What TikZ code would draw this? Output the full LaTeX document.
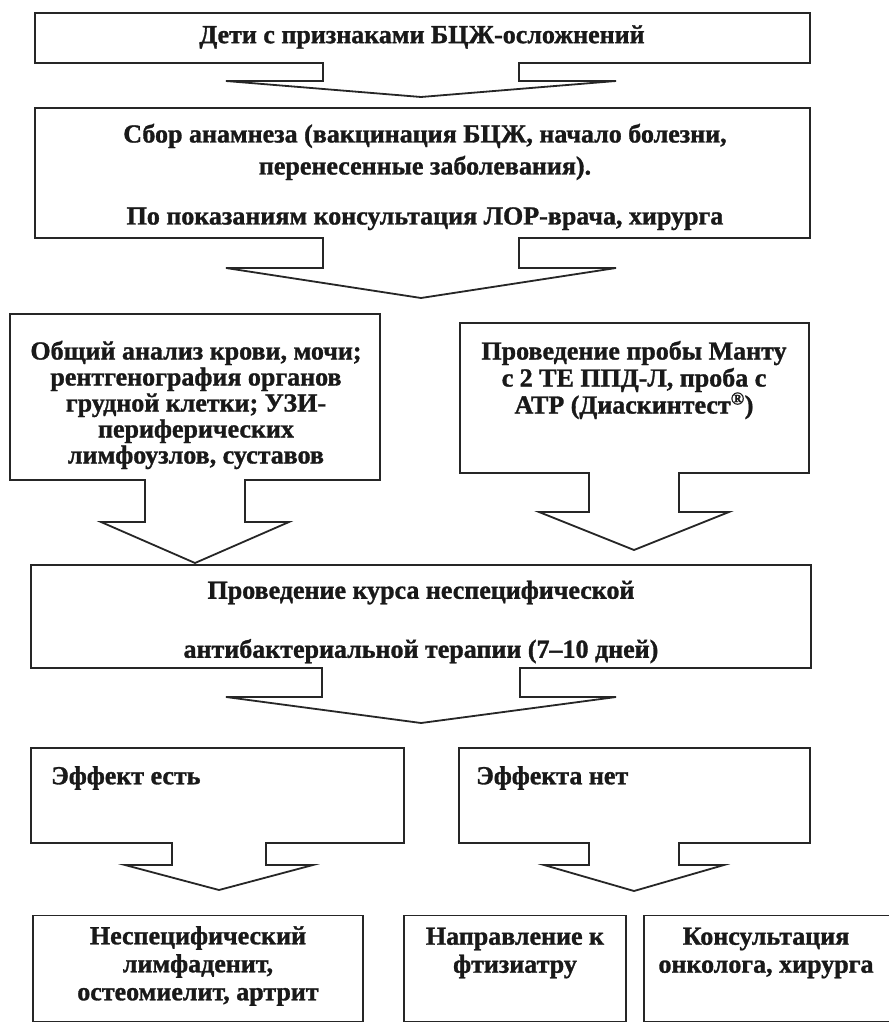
\documentclass[tikz,border=0pt]{standalone}
\usepackage{fontspec}
\setmainfont{Liberation Serif}[BoldFeatures={FakeBold=1.2}]
\usetikzlibrary{calc}
\tikzset{
  box/.style={draw=black!85, line width=1.8pt, inner sep=0pt},
  lbl/.style={inner sep=0pt, align=center, font=\fontsize{26}{27}\selectfont\bfseries, text=black!90},
  arrowline/.style={draw=black!85, line width=1.8pt, line join=miter},
}
\newcommand\blockarrow[5]{% #1 source node, #2 tip coordinate, #3 shaft half width, #4 head length, #5 wing half width
  \fill[white] let \p1=(#1.south), \p2=(#2) in
    (\x2-#3pt+0.9pt, \y1+1.5pt) rectangle (\x2+#3pt-0.9pt, \y1-1.5pt);
  \draw[arrowline] let \p1=(#1.south), \p2=(#2) in
    (\x2-#3pt, \y1+0.9pt) -- (\x2-#3pt, \y2+#4pt) -- (\x2-#5pt, \y2+#4pt) -- (#2)
    -- (\x2+#5pt, \y2+#4pt) -- (\x2+#3pt, \y2+#4pt) -- (\x2+#3pt, \y1+0.9pt);
}
\begin{document}
\begin{tikzpicture}[x=1pt, y=-1pt]
\useasboundingbox (0,0) rectangle (888,1024);
\fill[white] (0,0) rectangle (888,1024);

% boxes
\node[box, minimum width=775pt, minimum height=50pt] (b1) at (422.5,38) {};
\node[box, minimum width=775pt, minimum height=130pt] (b2) at (422.5,173) {};
\node[box, minimum width=370pt, minimum height=166pt] (b3l) at (195,397) {};
\node[box, minimum width=349pt, minimum height=150pt] (b3r) at (634.5,398) {};
\node[box, minimum width=780pt, minimum height=103pt] (b4) at (421,616.5) {};
\node[box, minimum width=373pt, minimum height=95pt] (b5l) at (217.5,795.5) {};
\node[box, minimum width=351pt, minimum height=95pt] (b5r) at (634.5,795.5) {};
\node[box, minimum width=330pt, minimum height=106pt] (b6a) at (198,968.5) {};
\node[box, minimum width=222pt, minimum height=106pt] (b6b) at (515,968.5) {};
\node[box, minimum width=252pt, minimum height=106pt] (b6c) at (770,968.5) {};

% texts
\node[lbl] (t1) at (422,37) {Дети с признаками БЦЖ-осложнений};
\node[lbl] (t2) at (425,177) {Сбор анамнеза (вакцинация БЦЖ, начало болезни,\\[5pt]
  перенесенные заболевания).\\[23pt]
  По показаниям консультация ЛОР-врача, хирурга};
\node[lbl, font=\fontsize{26}{26}\selectfont\bfseries] (t3l) at (196,405) {Общий анализ крови, мочи;\\
  рентгенография органов\\ грудной клетки; УЗИ-\\ периферических\\ лимфоузлов, суставов};
\node[lbl, font=\fontsize{26}{27}\selectfont\bfseries] (t3r) at (634,380) {Проведение пробы Манту\\
  с 2 ТЕ ППД-Л, проба с\\ АТР (Диаскинтест\textsuperscript{®})};
\node[lbl] (t4) at (421,622) {Проведение курса неспецифической\\[32pt]
  антибактериальной терапии (7–10 дней)};
\node[lbl, anchor=west] (t5l) at (51,778) {Эффект есть};
\node[lbl, anchor=west] (t5r) at (476,778) {Эффекта нет};
\node[lbl, font=\fontsize{26}{28}\selectfont\bfseries] (t6a) at (198,966) {Неспецифический\\ лимфаденит,\\ остеомиелит, артрит};
\node[lbl, font=\fontsize{26}{28}\selectfont\bfseries] (t6b) at (515,953) {Направление к\\ фтизиатру};
\node[lbl, font=\fontsize{26}{28}\selectfont\bfseries] (t6c) at (766,953) {Консультация\\ онколога, хирурга};

% arrow tips
\coordinate (a1) at (421,97);
\coordinate (a2) at (421,298);
\coordinate (a3l) at (195,563);
\coordinate (a3r) at (634,550);
\coordinate (a4) at (421,723);
\coordinate (a5l) at (219,890);
\coordinate (a5r) at (634,891);

\blockarrow{b1}{a1}{98}{16}{195}
\blockarrow{b2}{a2}{98}{30}{195}
\blockarrow{b3l}{a3l}{50}{41}{94}
\blockarrow{b3r}{a3r}{45}{38}{95}
\blockarrow{b4}{a4}{99}{26}{195}
\blockarrow{b5l}{a5l}{47}{25}{94}
\blockarrow{b5r}{a5r}{45}{26}{90}
\end{tikzpicture}
\end{document}
